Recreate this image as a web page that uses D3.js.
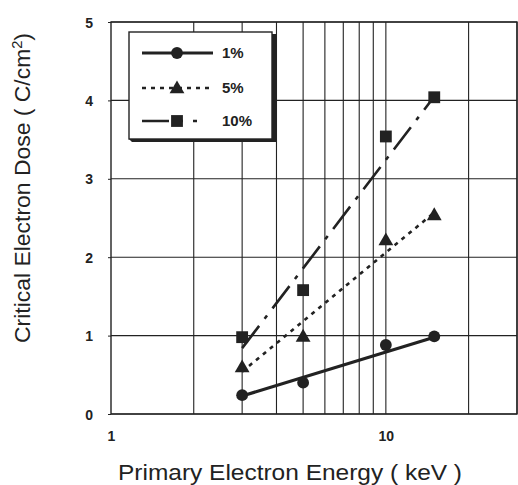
<!DOCTYPE html>
<html><head><meta charset="utf-8">
<script src="https://cdn.jsdelivr.net/npm/d3@7"></script>
<style>body{margin:0;background:#fff}svg{display:block}text{font-family:"Liberation Sans",Arial,sans-serif;fill:#222}</style>
</head><body>
<script>
const energy = [3, 5, 10, 15];
const dose1 = [0.24, 0.40, 0.88, 0.99];
const dose5 = [0.60, 0.99, 2.22, 2.54];
const dose10 = [0.98, 1.58, 3.54, 4.04];
const fitEnergy = [3, 15];
const fit1 = [0.23, 0.98];
const fit5 = [0.54, 2.57];
const fit10 = [0.84, 4.05];
const gridX = [2,3,4,5,6,7,8,9,10,20,30];
const xTickLabels = [1, 10];
const yTicks = [0,1,2,3,4,5];
const seriesNames = ["1%", "5%", "10%"];

const W = 518, H = 485;
const svg = d3.select("body").append("svg").attr("width", W).attr("height", H);
const x = d3.scaleLog().domain([1, 30]).range([111, 517]);
const y = d3.scaleLinear().domain([0, 5]).range([414, 22]);
const ink = "#222";

// grid
svg.append("g").selectAll("line").data(gridX).join("line")
  .attr("x1", d => x(d)).attr("x2", d => x(d)).attr("y1", y(0)).attr("y2", y(5))
  .attr("stroke", ink).attr("stroke-width", 1.1);
svg.append("g").selectAll("line").data(yTicks).join("line")
  .attr("x1", x(1)).attr("x2", x(30)).attr("y1", d => y(d)).attr("y2", d => y(d))
  .attr("stroke", ink).attr("stroke-width", 1.1);
svg.append("rect").attr("x", x(1)).attr("y", y(5)).attr("width", x(30)-x(1)).attr("height", y(0)-y(5))
  .attr("fill", "none").attr("stroke", ink).attr("stroke-width", 1.4);

// axes
const yAxis = d3.axisLeft(y).tickValues(yTicks).tickSize(3).tickFormat(d3.format("d"));
const gy = svg.append("g").attr("transform", `translate(${x(1)},0)`).call(yAxis);
gy.select(".domain").remove();
gy.selectAll("line").attr("stroke", ink);
gy.selectAll("text").attr("x", -18).attr("dy", "0.36em").style("font-size", "14px").style("font-weight", "bold").attr("fill", ink);

const xAxis = d3.axisBottom(x).tickValues(xTickLabels).tickSize(0).tickFormat(d3.format("d"));
const gx = svg.append("g").attr("transform", `translate(0,${y(0)})`).call(xAxis);
gx.select(".domain").remove();
gx.selectAll("text").attr("y", 17).attr("dy", "0.71em").style("font-size", "14px").style("font-weight", "bold").attr("fill", ink);

// titles
svg.append("text").attr("x", 118).attr("y", 480)
  .attr("textLength", 344).attr("lengthAdjust", "spacingAndGlyphs")
  .style("font-size", "22px").text("Primary Electron Energy ( keV )");
svg.append("text").attr("transform", "translate(30,343) rotate(-90)")
  .attr("textLength", 310).attr("lengthAdjust", "spacingAndGlyphs")
  .style("font-size", "22px").html('Critical Electron Dose ( C/cm<tspan dy="-8" font-size="14">2</tspan><tspan dy="8">)</tspan>');

// fit lines
const line = d3.line().x(d => x(d[0])).y(d => y(d[1]));
const styles = [
  {fit: fit1, pts: dose1, dash: null, sw: 3.2, shape: "circle"},
  {fit: fit5, pts: dose5, dash: "4,5", sw: 2.6, shape: "triangle"},
  {fit: fit10, pts: dose10, dash: "28,9,4,9", sw: 2.6, shape: "square"}
];
const symbols = {circle: d3.symbolCircle, triangle: d3.symbolTriangle, square: d3.symbolSquare};
const symSize = {circle: 110, triangle: 95, square: 140};
styles.forEach(s => {
  svg.append("path").datum(fitEnergy.map((e, i) => [e, s.fit[i]])).attr("d", line)
    .attr("fill", "none").attr("stroke", ink).attr("stroke-width", s.sw)
    .attr("stroke-dasharray", s.dash);
  svg.append("g").selectAll("path").data(energy.map((e, i) => [e, s.pts[i]])).join("path")
    .attr("transform", d => `translate(${x(d[0])},${y(d[1]) + (s.shape === "triangle" ? 1 : 0)})`)
    .attr("d", d3.symbol().type(symbols[s.shape]).size(symSize[s.shape]))
    .attr("fill", ink);
});

// legend
const lg = svg.append("g");
lg.append("rect").attr("x", 129).attr("y", 32).attr("width", 143).attr("height", 107)
  .attr("fill", "#fff").attr("stroke", ink).attr("stroke-width", 1.4);
lg.append("path").attr("d", "M272,34 L277,34 L277,142 L132,142 L129,139 L272,139 Z").attr("fill", ink);
const rowsY = [53, 88, 121];
styles.forEach((s, i) => {
  lg.append("line").attr("x1", 142).attr("x2", 213).attr("y1", rowsY[i]).attr("y2", rowsY[i])
    .attr("stroke", ink).attr("stroke-width", s.sw === 3.2 ? 2.8 : 2.4)
    .attr("stroke-dasharray", i === 2 ? "27,6,8,10,4,20" : s.dash);
  lg.append("path").attr("transform", `translate(177,${rowsY[i] + (s.shape === "triangle" ? 1 : 0)})`)
    .attr("d", d3.symbol().type(symbols[s.shape]).size(symSize[s.shape])).attr("fill", ink);
  lg.append("text").attr("x", 222).attr("y", rowsY[i]).attr("dy", "0.36em")
    .style("font-size", "15px").style("font-weight", "bold").text(seriesNames[i]);
});
</script>
</body></html>
